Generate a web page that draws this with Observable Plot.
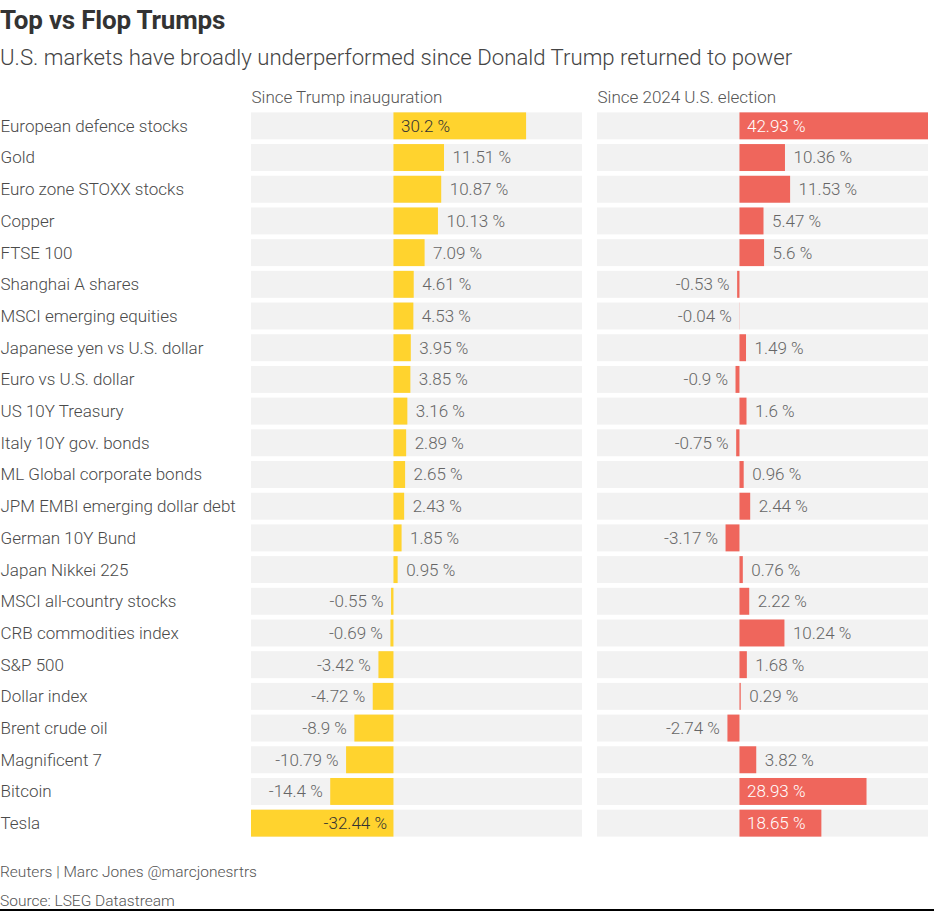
<!DOCTYPE html>
<html>
<head>
<meta charset="utf-8">
<script src="https://cdn.jsdelivr.net/npm/d3@7"></script>
<script src="https://cdn.jsdelivr.net/npm/@observablehq/plot@0.6"></script>
<style>
  html, body { margin: 0; padding: 0; background: #fff; width: 934px; height: 912px; overflow: hidden; }
  body { position: relative; font-family: Roboto, "Noto Sans", sans-serif; }
  #title { position: absolute; left: 0; top: 5px; font-size: 26px; font-weight: 700; line-height: 30px; color: #333; letter-spacing: -0.2px; }
  #subtitle { position: absolute; left: 0; top: 42px; font-size: 22.2px; font-weight: 300; line-height: 30px; color: #444; }
  #chart { position: absolute; left: 0; top: 80px; }
  #credit { position: absolute; left: 0; top: 862px; font-size: 15.5px; font-weight: 300; line-height: 20px; color: #555; }
  #source { position: absolute; left: 0; top: 891px; font-size: 15.5px; font-weight: 300; line-height: 20px; color: #555; }
  #rule { position: absolute; left: 0; top: 909px; width: 934px; height: 2px; background: #000; }
</style>
</head>
<body>
<div id="title">Top vs Flop Trumps</div>
<div id="subtitle">U.S. markets have broadly underperformed since Donald Trump returned to power</div>
<div id="chart"></div>
<div id="credit">Reuters | Marc Jones @marcjonesrtrs</div>
<div id="source">Source: LSEG Datastream</div>
<div id="rule"></div>
<script>
const names = ["European defence stocks","Gold","Euro zone STOXX stocks","Copper","FTSE 100","Shanghai A shares","MSCI emerging equities","Japanese yen vs U.S. dollar","Euro vs U.S. dollar","US 10Y Treasury","Italy 10Y gov. bonds","ML Global corporate bonds","JPM EMBI emerging dollar debt","German 10Y Bund","Japan Nikkei 225","MSCI all-country stocks","CRB commodities index","S&P 500","Dollar index","Brent crude oil","Magnificent 7","Bitcoin","Tesla"];
const sinceInauguration = [30.2, 11.51, 10.87, 10.13, 7.09, 4.61, 4.53, 3.95, 3.85, 3.16, 2.89, 2.65, 2.43, 1.85, 0.95, -0.55, -0.69, -3.42, -4.72, -8.9, -10.79, -14.4, -32.44];
const sinceElection = [42.93, 10.36, 11.53, 5.47, 5.6, -0.53, -0.04, 1.49, -0.9, 1.6, -0.75, 0.96, 2.44, -3.17, 0.76, 2.22, 10.24, 1.68, 0.29, -2.74, 3.82, 28.93, 18.65];
const panels = ["Since Trump inauguration", "Since 2024 U.S. election"];
const colors = ["#ffd32e", "#ef665c"];

const rows = names.flatMap((n, i) => [
  {name: n, panel: panels[0], value: sinceInauguration[i]},
  {name: n, panel: panels[1], value: sinceElection[i]}
]);
const [xMin, xMax] = d3.extent(rows, d => d.value);
const fmt = d => `${d.value} %`;
const big = 15;

const labelFont = 17;
const chart = Plot.plot({
  width: 934,
  height: 770,
  marginLeft: 251,
  marginRight: 6,
  marginTop: 30,
  marginBottom: 11,
  style: {fontFamily: "Roboto, 'Noto Sans', sans-serif", fontWeight: 300, background: "#fff"},
  fx: {domain: panels, paddingInner: 0.0434, paddingOuter: 0, axis: null, round: false},
  x: {domain: [xMin, xMax], axis: null},
  y: {domain: names, paddingInner: 0.15, paddingOuter: 0.075, label: null, axis: null, round: false},
  color: {domain: panels, range: colors},
  marks: [
    Plot.barX(rows, {fx: "panel", y: "name", x1: () => xMin, x2: () => xMax, fill: "#f2f2f2"}),
    Plot.barX(rows, {fx: "panel", y: "name", x: "value", fill: "panel"}),
    Plot.axisY({tickSize: 0, tickPadding: 0, textAnchor: "start", dx: -251, fontSize: 17, fill: "#4a4a4a", label: null, fontWeight: 300}),
    Plot.text(panels, {fx: d => d, text: d => d, frameAnchor: "top-left", dy: -13, textAnchor: "start", lineAnchor: "middle", fontSize: 17, fill: "#555"}),
    // inside labels, positive
    Plot.text(rows.filter(d => d.value > big && d.panel === panels[0]), {fx: "panel", y: "name", x: () => 0, text: fmt, textAnchor: "start", dx: 7, fill: "#333", fontSize: labelFont}),
    Plot.text(rows.filter(d => d.value > big && d.panel === panels[1]), {fx: "panel", y: "name", x: () => 0, text: fmt, textAnchor: "start", dx: 7, fill: "#fff", fontSize: labelFont}),
    // inside labels, negative
    Plot.text(rows.filter(d => d.value < -big && d.panel === panels[0]), {fx: "panel", y: "name", x: () => 0, text: fmt, textAnchor: "end", dx: -7, fill: "#333", fontSize: labelFont}),
    Plot.text(rows.filter(d => d.value < -big && d.panel === panels[1]), {fx: "panel", y: "name", x: () => 0, text: fmt, textAnchor: "end", dx: -7, fill: "#fff", fontSize: labelFont}),
    // outside labels
    Plot.text(rows.filter(d => d.value >= 0 && d.value <= big), {fx: "panel", y: "name", x: "value", text: fmt, textAnchor: "start", dx: 8, fill: "#666", fontSize: labelFont}),
    Plot.text(rows.filter(d => d.value < 0 && d.value >= -big), {fx: "panel", y: "name", x: "value", text: fmt, textAnchor: "end", dx: -8, fill: "#666", fontSize: labelFont})
  ]
});
document.getElementById("chart").appendChild(chart);
</script>
</body>
</html>
